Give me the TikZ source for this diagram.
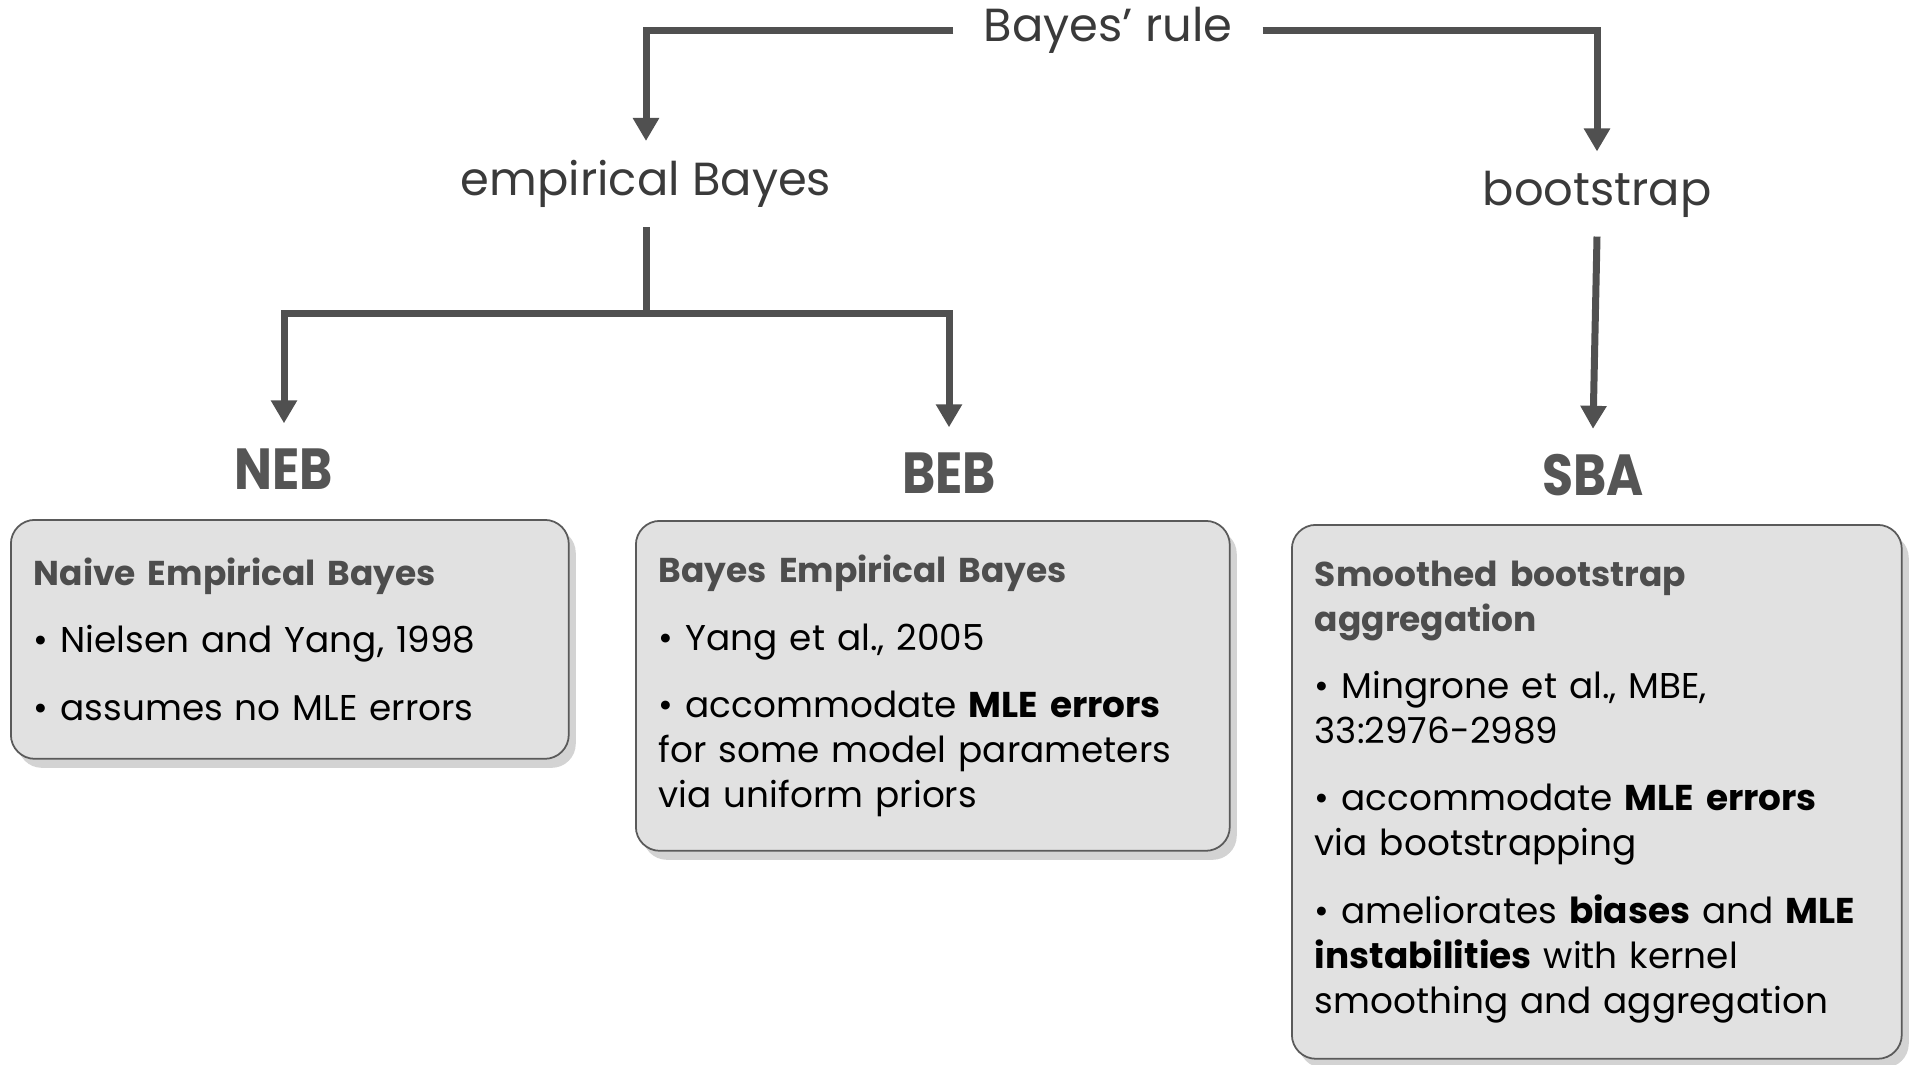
\documentclass[tikz,border=0pt]{standalone}
\usepackage{fontspec}
\usepackage{graphicx}
\setmainfont{Poppins}
\usetikzlibrary{arrows.meta,shadows,positioning}

\definecolor{linegray}{HTML}{505050}
\definecolor{boxfill}{HTML}{E1E1E1}
\definecolor{boxline}{HTML}{5A5A5A}
\definecolor{titlegray}{HTML}{4D4D4D}
\definecolor{textgray}{HTML}{3A3A3A}
\definecolor{acrogray}{HTML}{555555}

\newcommand{\acrotext}[1]{\scalebox{0.87}[1]{#1}}
\newcommand{\boxtitle}[1]{{\color{titlegray}\bfseries\fontsize{19.6}{25.6}\selectfont #1}}

\tikzset{
  link/.style={draw=linegray, line width=0.14cm},
  arrow/.style={link, -{Triangle[length=0.46cm,width=0.5cm]}},
  branch/.style={inner xsep=0.6cm, inner ysep=0.38cm, text=textgray,
    font=\fontsize{26.4}{32}\selectfont},
  acro/.style={inner sep=0.5cm, text=acrogray,
    font=\fontsize{33}{40}\selectfont\bfseries},
  infobox/.style={anchor=north west, draw=boxline, line width=1pt, fill=boxfill,
    rounded corners=0.48cm, inner xsep=0.46cm, inner ysep=0.3cm, align=left,
    drop shadow={shadow xshift=0.14cm, shadow yshift=-0.18cm, opacity=0.35},
    font=\fontsize{20.4}{25.6}\selectfont},
}

\begin{document}
\begin{tikzpicture}[x=0.02cm, y=-0.02cm]
\useasboundingbox (0,0) rectangle (1911,1065);

% tree labels
\node[branch] (rule) at (1108,30) {Bayes' rule};
\node[branch] (emp) at (646,184) {empirical Bayes};
\node[branch] (boot) at (1597,194) {bootstrap};

% methods
\node[acro] (neb) at (284,469) {\acrotext{NEB}};
\node[acro] (beb) at (949,473) {\acrotext{BEB}};
\node[acro] (sba) at (1593,475) {\acrotext{SBA}};

% description boxes
\node[infobox, text width=10.24cm, minimum height=4.78cm] (nebbox) at (10,519) {%
  \boxtitle{Naive Empirical Bayes}\\[0.45cm]
  \textbullet{} Nielsen and Yang, 1998\\[0.45cm]
  \textbullet{} assumes no MLE errors};
\node[infobox, text width=10.96cm, minimum height=6.6cm] (bebbox) at (635,520) {%
  \boxtitle{Bayes Empirical Bayes}\\[0.45cm]
  \textbullet{} Yang et al., 2005\\[0.45cm]
  \textbullet{} accommodate \textbf{MLE errors}\\
  for some model parameters\\
  via uniform priors};
\node[infobox, text width=11.28cm, minimum height=10.68cm] (sbabox) at (1291,524) {%
  \boxtitle{Smoothed bootstrap}\\
  \boxtitle{aggregation}\\[0.45cm]
  \textbullet{} Mingrone et al., MBE,\\
  33:2976-2989\\[0.45cm]
  \textbullet{} accommodate \textbf{MLE errors}\\
  via bootstrapping\\[0.45cm]
  \textbullet{} ameliorates \textbf{biases} and \textbf{MLE}\\
  \textbf{instabilities} with kernel\\
  smoothing and aggregation};

% connectors
\draw[arrow] (rule.west) -| (emp.north);
\draw[arrow] (rule.east) -| (boot.north);
\coordinate (split) at (emp.south |- 0,313);
\draw[link] (emp.south) -- (split);
\draw[arrow] (split) -| (neb.north);
\draw[arrow] (split) -| (beb.north);
\draw[arrow] (boot.south) -- (sba.north);
\end{tikzpicture}
\end{document}
